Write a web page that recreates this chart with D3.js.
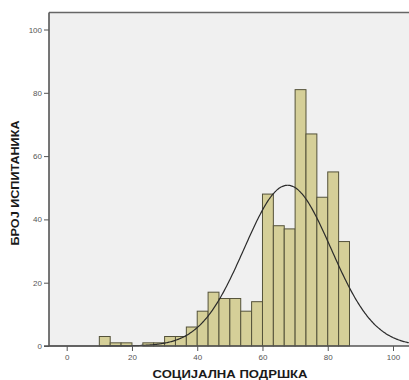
<!DOCTYPE html>
<html>
<head>
<meta charset="utf-8">
<script src="https://cdn.jsdelivr.net/npm/d3@7"></script>
<style>
  html, body { margin: 0; padding: 0; background: #ffffff; }
  svg { display: block; }
  text { font-family: "Liberation Sans", Arial, sans-serif; }
</style>
</head>
<body>
<svg id="chart" width="409" height="380"></svg>
<script>
// Histogram bins: lower edge of each bin and the number of respondents in it
const binWidth = 10 / 3;
const binStarts = [10, 13.333, 16.667, 20, 23.333, 26.667, 30, 33.333, 36.667,
  40, 43.333, 46.667, 50, 53.333, 56.667, 60, 63.333, 66.667, 70, 73.333,
  76.667, 80, 83.333];
const counts = [3, 1, 1, 0, 1, 1, 3, 3, 6,
  11, 17, 15, 15, 11, 14, 48, 38, 37, 81, 67,
  47, 55, 33];

// Fitted normal curve parameters
const mean = 67.7;
const stdDev = 13.3;
const total = d3.sum(counts);

const xTicks = [0, 20, 40, 60, 80, 100];
const yTicks = [0, 20, 40, 60, 80, 100];

const xLabel = "СОЦИЈАЛНА ПОДРШКА";
const yLabel = "БРОЈ ИСПИТАНИКА";

const svg = d3.select("#chart");

const x = d3.scaleLinear().domain([0, 100]).range([66.7, 393]);
const y = d3.scaleLinear().domain([0, 100]).range([346, 29.5]);

const plotLeft = 49, plotRight = 409, plotTop = 12.5, plotBottom = y(0);

// Plot background
svg.append("rect")
  .attr("x", plotLeft).attr("y", plotTop)
  .attr("width", plotRight - plotLeft).attr("height", plotBottom - plotTop)
  .attr("fill", "#f0f0f0");

// Bars
svg.append("g")
  .selectAll("rect")
  .data(binStarts.map((s, i) => ({ s, c: counts[i] })).filter(d => d.c > 0))
  .join("rect")
  .attr("x", d => x(d.s))
  .attr("y", d => y(d.c))
  .attr("width", d => x(d.s + binWidth) - x(d.s))
  .attr("height", d => y(0) - y(d.c))
  .attr("fill", "#d5cf98")
  .attr("stroke", "#54523a")
  .attr("stroke-width", 1);

// Normal curve scaled to the histogram counts
const peak = total * binWidth / (stdDev * Math.sqrt(2 * Math.PI));
const curveXs = d3.range(x.invert(plotLeft), x.invert(plotRight) + 0.01, 0.25);
const line = d3.line()
  .x(v => x(v))
  .y(v => y(peak * Math.exp(-((v - mean) ** 2) / (2 * stdDev * stdDev))))
  .curve(d3.curveBasis);
svg.append("path")
  .datum(curveXs)
  .attr("d", line)
  .attr("fill", "none")
  .attr("stroke", "#2b2b2b")
  .attr("stroke-width", 1.2);

// Frame: top edge
svg.append("line")
  .attr("x1", plotLeft).attr("x2", plotRight)
  .attr("y1", plotTop).attr("y2", plotTop)
  .attr("stroke", "#666").attr("stroke-width", 1.6);

// Y axis
const yAxis = svg.append("g")
  .attr("transform", `translate(${plotLeft},0)`)
  .call(d3.axisLeft(y).tickValues(yTicks).tickSize(5).tickPadding(2));
yAxis.select(".domain").remove();
yAxis.append("line")
  .attr("x1", 0).attr("x2", 0).attr("y1", plotTop).attr("y2", plotBottom)
  .attr("stroke", "#555").attr("stroke-width", 1.6);

// X axis
const xAxis = svg.append("g")
  .attr("transform", `translate(0,${plotBottom})`)
  .call(d3.axisBottom(x).tickValues(xTicks).tickSize(5).tickPadding(3));
xAxis.select(".domain").remove();
xAxis.append("line")
  .attr("x1", plotLeft - 5).attr("x2", plotRight).attr("y1", 0).attr("y2", 0)
  .attr("stroke", "#555").attr("stroke-width", 1.6);

svg.selectAll(".tick line").attr("stroke", "#555");
svg.selectAll(".tick text")
  .attr("fill", "#555")
  .style("font-size", "8px")
  .style("font-family", "'Liberation Sans', Arial, sans-serif");

// Axis titles
svg.append("text")
  .attr("x", 230).attr("y", 377.5)
  .attr("text-anchor", "middle")
  .style("font-size", "10.5px").style("font-weight", "bold")
  .attr("fill", "#1a1a1a")
  .attr("textLength", 155).attr("lengthAdjust", "spacingAndGlyphs")
  .text(xLabel);

svg.append("text")
  .attr("transform", "translate(19,183) rotate(-90)")
  .attr("text-anchor", "middle")
  .style("font-size", "10.5px").style("font-weight", "bold")
  .attr("fill", "#1a1a1a")
  .attr("textLength", 125).attr("lengthAdjust", "spacingAndGlyphs")
  .text(yLabel);
</script>
</body>
</html>
